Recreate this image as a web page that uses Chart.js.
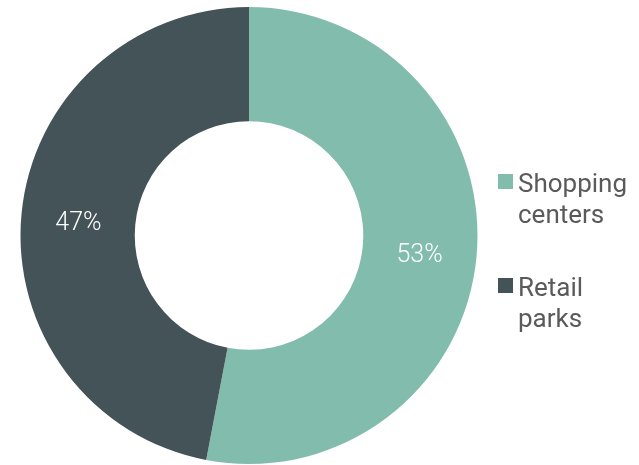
<!DOCTYPE html>
<html>
<head>
<meta charset="utf-8">
<script src="https://cdn.jsdelivr.net/npm/chart.js@4"></script>
<style>
  html, body { margin: 0; padding: 0; background: #fff; }
  #wrap { width: 639px; height: 465px; position: relative; }
</style>
</head>
<body>
<div id="wrap"><canvas id="grafica"></canvas></div>
<script>
// data
const categories = ['Shopping centers', 'Retail parks'];
const legendLines = [['Shopping', 'centers'], ['Retail', 'parks']];
const shares = [53, 47];
const sliceColors = ['#82bcad', '#435357'];

const LABEL_FONT = '300 25px Roboto, "Noto Sans", sans-serif';
const LEGEND_FONT = '400 26px Roboto, "Noto Sans", sans-serif';

// percent labels in the middle of each slice
const sliceLabels = {
    id: 'sliceLabels',
    afterDatasetsDraw(chart) {
        const ctx = chart.ctx;
        const meta = chart.getDatasetMeta(0);
        ctx.save();
        ctx.font = LABEL_FONT;
        ctx.fillStyle = '#ffffff';
        ctx.textAlign = 'center';
        ctx.textBaseline = 'middle';
        meta.data.forEach((arc, i) => {
            const p = arc.tooltipPosition();
            ctx.fillText(shares[i] + '%', p.x, p.y + 4);
        });
        ctx.restore();
    }
};

// legend on the right, two lines per item
const sideLegend = {
    id: 'sideLegend',
    afterDraw(chart) {
        const ctx = chart.ctx;
        const x = chart.chartArea.right;
        ctx.save();
        ctx.font = LEGEND_FONT;
        ctx.textBaseline = 'alphabetic';
        ctx.textAlign = 'left';
        legendLines.forEach((lines, i) => {
            const top = 174 + i * 104;
            ctx.fillStyle = sliceColors[i];
            ctx.fillRect(x, top, 15, 15);
            ctx.fillStyle = '#5a5a5a';
            lines.forEach((t, j) => {
                ctx.fillText(t, x + 20, top + 18 + j * 31);
            });
        });
        ctx.restore();
    }
};

new Chart(document.getElementById('grafica'), {
    type: 'doughnut',
    data: {
        labels: categories,
        datasets: [{
            data: shares,
            backgroundColor: sliceColors,
            borderWidth: 0,
            hoverOffset: 0
        }]
    },
    options: {
        responsive: true,
        maintainAspectRatio: false,
        animation: false,
        cutout: '50%',
        layout: { padding: { top: 7, bottom: 1, left: 0, right: 141 } },
        plugins: {
            legend: { display: false },
            tooltip: { enabled: false }
        }
    },
    plugins: [sliceLabels, sideLegend]
});
</script>
</body>
</html>
